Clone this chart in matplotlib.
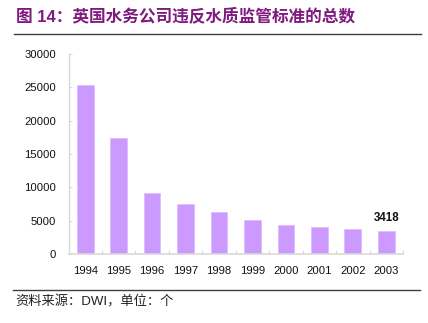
import matplotlib
matplotlib.use("Agg")
import matplotlib.pyplot as plt
from matplotlib.lines import Line2D
import numpy as np

plt.rcParams['font.family'] = ['Liberation Sans', 'Noto Sans CJK SC', 'DejaVu Sans']

years = ['1994', '1995', '1996', '1997', '1998', '1999', '2000', '2001', '2002', '2003']
violations = [25300, 17400, 9100, 7450, 6250, 5150, 4400, 4050, 3700, 3418]
yticks = [0, 5000, 10000, 15000, 20000, 25000, 30000]
title = '图 14：英国水务公司违反水质监管标准的总数'
source = '资料来源：DWI，单位：个'

W, H = 428, 323
fig = plt.figure(figsize=(W / 100, H / 100), dpi=100)
ax = fig.add_axes([68.5 / W, 1 - 254 / H, (403 - 68.5) / W, (254 - 54) / H])

x = np.arange(len(years))
ax.bar(x, violations, width=0.5, color='#CC99FF', edgecolor='#DDB8FF', linewidth=0.5, zorder=2)
ax.set_xlim(-0.5, len(years) - 0.5)
ax.set_ylim(0, 30000)
ax.set_yticks(yticks)
ax.set_yticklabels([str(v) for v in yticks])
ax.set_xticks(x)
ax.set_xticklabels(years)
ax.set_xticks(np.arange(-0.5, len(years) + 0.5, 1), minor=True)

for s in ['top', 'right']:
    ax.spines[s].set_visible(False)
ax.spines['left'].set_color('#D9D9D9')
ax.spines['bottom'].set_color('#D9D9D9')
ax.spines['left'].set_linewidth(1.0)
ax.spines['bottom'].set_linewidth(1.2)

ax.tick_params(axis='y', length=2, width=0.8, color='#D9D9D9', labelsize=8.1, pad=9, direction='in')
ax.tick_params(axis='x', which='major', length=0, labelsize=8.1, pad=8.5)
ax.tick_params(axis='x', which='minor', length=3, width=0.8, color='#D9D9D9', direction='in')
for lbl in ax.get_xticklabels() + ax.get_yticklabels():
    lbl.set_color('#111111')

ax.annotate(str(violations[-1]), xy=(x[-1], violations[-1]), xytext=(0, 5),
            textcoords='offset points', ha='center', va='bottom',
            fontsize=8.3, fontweight='bold', color='#111111')

fig.text(16 / W, 1 - 16 / H, title, fontsize=12, fontweight='bold', color='#7F1A7F',
         ha='left', va='center', family=['Liberation Sans', 'Noto Sans CJK SC'])
fig.add_artist(Line2D([14 / W, 421 / W], [1 - 34 / H, 1 - 34 / H], color='#404040', lw=1.0))
fig.add_artist(Line2D([13 / W, 420 / W], [1 - 290 / H, 1 - 290 / H], color='#404040', lw=1.0))
fig.text(15 / W, 1 - 302 / H, source, fontsize=9.5, color='#222222', ha='left', va='center',
         family=['Liberation Sans', 'Noto Sans CJK SC'], fontweight='light')

fig.savefig('out.png', dpi=100)
